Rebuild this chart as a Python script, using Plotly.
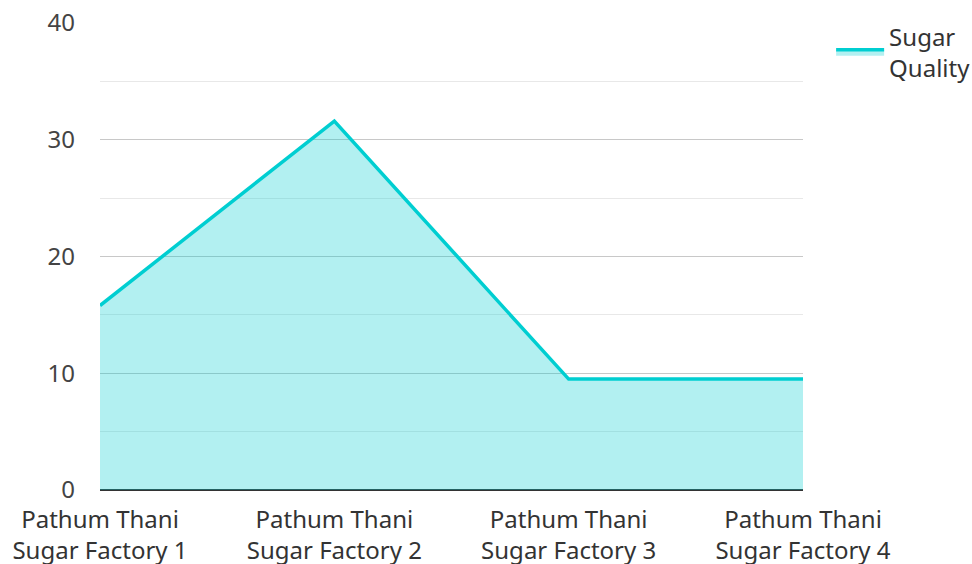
import plotly.graph_objects as go

categories = ["Pathum Thani<br>Sugar Factory 1", "Pathum Thani<br>Sugar Factory 2",
              "Pathum Thani<br>Sugar Factory 3", "Pathum Thani<br>Sugar Factory 4"]
values = [15.8, 31.6, 9.5, 9.5]
series_name = "Sugar<br>Quality"

fig = go.Figure()
fig.add_trace(go.Scatter(
    x=categories, y=values, name=series_name, mode="lines",
    line=dict(color="#00CED1", width=3.5),
    fill="tozeroy", fillcolor="rgba(0,206,209,0.3)",
))

fig.update_layout(
    width=972, height=564,
    margin=dict(l=100, r=169, t=23, b=74, autoexpand=False),
    paper_bgcolor="white", plot_bgcolor="white",
    font=dict(family="Noto Sans", size=24, color="#444444"),
    showlegend=True,
    legend=dict(x=1.04, y=1.019, xanchor="left", yanchor="top", itemwidth=48,
                font=dict(size=24, color="#333333"), bgcolor="rgba(0,0,0,0)"),
)
fig.update_xaxes(
    range=[0, 3], showgrid=False, zeroline=False, showline=False, automargin=False,
    ticks="", ticklabelstandoff=13, tickfont=dict(size=24, color="#333333"),
)
fig.update_yaxes(
    range=[0, 40], dtick=10, showgrid=True, gridcolor="#c8c8c8", gridwidth=1,
    zeroline=True, zerolinecolor="#333333", zerolinewidth=2, automargin=False,
    showline=False, ticks="", ticklabelstandoff=24,
    tickfont=dict(size=24, color="#444444"),
    minor=dict(dtick=5, showgrid=True, gridcolor="#e8e8e8", gridwidth=1),
)

fig.write_html("out.html")
